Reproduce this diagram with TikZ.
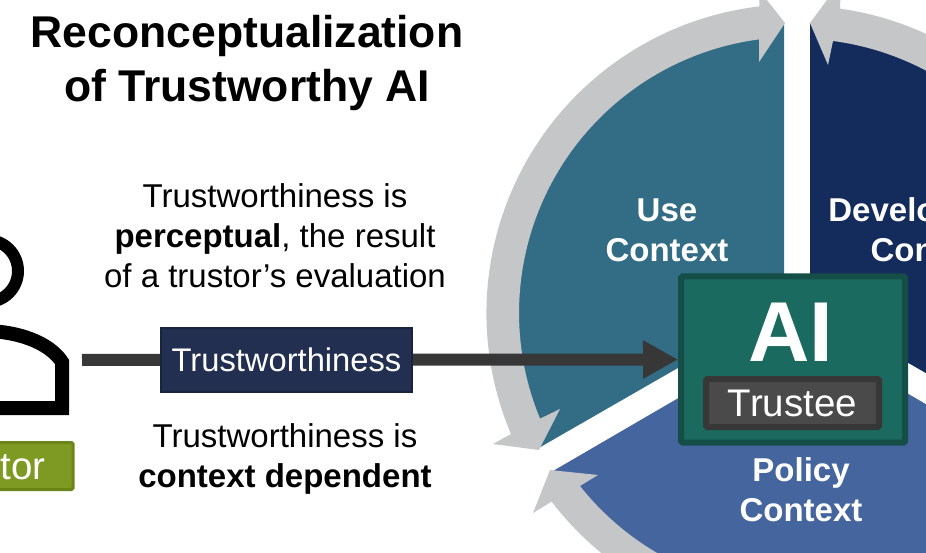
\documentclass[tikz,border=0pt]{standalone}
\usepackage{fontspec}
\setmainfont{Liberation Sans}
\usetikzlibrary{arrows.meta}
\definecolor{ctxteal}{RGB}{50,109,133}
\definecolor{ctxnavy}{RGB}{19,44,92}
\definecolor{ctxblue}{RGB}{68,101,157}
\definecolor{ringgray}{RGB}{196,198,200}
\definecolor{aigreen}{RGB}{27,106,96}
\definecolor{aiedge}{RGB}{20,78,71}
\definecolor{teefill}{RGB}{74,74,74}
\definecolor{teeedge}{RGB}{55,55,55}
\definecolor{boxnavy}{RGB}{34,47,80}
\definecolor{boxedge}{RGB}{24,36,62}
\definecolor{torfill}{RGB}{127,154,34}
\definecolor{toredge}{RGB}{108,133,24}

\begin{document}
\begin{tikzpicture}[x=1pt, y=1pt, >=Triangle,
    bodytext/.style={inner sep=0pt, align=center, font=\fontsize{33}{40}\selectfont},
    ctxlabel/.style={inner sep=0pt, align=center, text=white, font=\fontsize{33}{40}\selectfont\bfseries},
    tagbox/.style={rounded corners=1.5pt, inner sep=0pt, text=white}]
  \clip (0,0) rectangle (926,552);
  % --- Context sectors ---
  \fill[ctxteal] (784,245) -- (784,529) arc[start angle=92.5, end angle=207.5, radius=291] -- cycle;
  \fill[ctxnavy] (810,245.5) -- (810,529) arc[start angle=87.5, end angle=-27.4, radius=291] -- cycle;
  \fill[ctxblue] (553,81) arc[start angle=212.8, end angle=327.2, radius=290] -- (797,223) -- cycle;
  % --- Ring arrows ---
  \fill[ringgray] (785,529) -- (759,490) -- (759,512.6) arc[start angle=97.5, end angle=202.5, radius=276]
    -- (560,143) -- (539,102) -- (493,108) -- (511,118) arc[start angle=203, end angle=96.7, radius=309]
    -- (759,562) -- cycle;
  \fill[ringgray] (810,529) -- (828,487) -- (833,511) arc[start angle=82.5, end angle=30, radius=276]
    -- ++(30:33) arc[start angle=30, end angle=82, radius=309] -- (841,571) -- cycle;
  \fill[ringgray] (550,82) -- (598,77) -- (580,66) arc[start angle=218.4, end angle=285, radius=277]
    -- ++(285:32) arc[start angle=285, end angle=217.4, radius=309] -- (533,39) -- cycle;
  % --- AI trustee ---
  \node[tagbox, draw=aiedge, fill=aigreen, line width=6pt, minimum width=224pt, minimum height=166pt] (aibox) at (793,192.5) {};
  \node[inner sep=0pt, text=white, font=\fontsize{85}{85}\selectfont\bfseries] (ailabel) at (790.5,220) {AI};
  \node[tagbox, draw=teeedge, fill=teefill, line width=6pt, minimum width=173pt, minimum height=48pt,
    font=\fontsize{38.5}{40}\selectfont] (trustee) at (792.5,149) {Trustee};
  \node[ctxlabel] (use) at (667,322) {Use\\Context};
  \node[ctxlabel] (develop) at (932,322) {Development\\Context};
  \node[ctxlabel] (policy) at (801,62) {Policy\\Context};
  % --- Trustor ---
  \draw[line width=12pt] (-13,281) circle (31);
  \draw[line width=14pt] (-90,144) -- (62,144) -- (62,190) .. controls (52,206) and (25,220) .. (-13,221);
  \node[tagbox, draw=toredge, fill=torfill, line width=3pt, minimum width=176pt, minimum height=47pt,
    font=\fontsize{38.5}{40}\selectfont] (trustor) at (-15,86) {Trustor};
  % --- Relation ---
  \coordinate (start) at (82,192);
  \draw[teeedge, line width=12pt, -{Triangle[length=35pt, width=36pt]}] (start) -- (aibox.west);
  \node[tagbox, rounded corners=0pt, draw=boxedge, fill=boxnavy, line width=2pt, minimum width=251pt, minimum height=64pt,
    font=\fontsize{32.7}{40}\selectfont] (trustworth) at (286.5,192) {Trustworthiness};
  % --- Text ---
  \node[inner sep=0pt, align=center, font=\fontsize{44.5}{54}\selectfont\bfseries] (title) at (247,489) {Reconceptualization\\of Trustworthy AI};
  \node[bodytext] (perceptual) at (275,316) {Trustworthiness is\\\textbf{perceptual}, the result\\of a trustor’s evaluation};
  \node[bodytext] (contextdep) at (285,93.5) {Trustworthiness is\\\textbf{context dependent}};
\end{tikzpicture}
\end{document}
